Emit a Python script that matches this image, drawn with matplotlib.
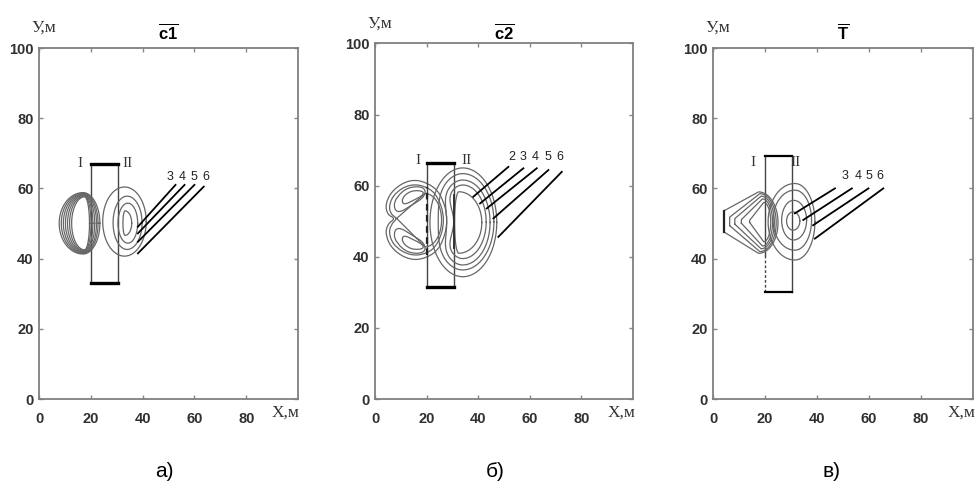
import numpy as np
import matplotlib
matplotlib.use('Agg')
import matplotlib.pyplot as plt
from matplotlib.path import Path
from matplotlib.patches import PathPatch

plt.rcParams['font.family'] = ['Liberation Sans', 'DejaVu Sans']
plt.rcParams['mathtext.fontset'] = 'custom'
plt.rcParams['mathtext.bf'] = 'Liberation Sans:bold'
plt.rcParams['mathtext.rm'] = 'Liberation Sans'

# ---- common ----
x_ticks = [0, 20, 40, 60, 80]
y_ticks = [0, 20, 40, 60, 80, 100]
titles = [r'$\overline{\mathbf{c1}}$', r'$\overline{\mathbf{c2}}$', r'$\overline{\mathbf{T}}$']
sub_labels = ['а)', 'б)', 'в)']

# source rectangle (zones I / II)
rect_x0 = [20, 20, 20]
rect_x1 = [30.5, 30.8, 30.5]
rect_y0 = [33.0, 31.6, 30.4]
rect_y1 = [67.0, 66.4, 69.2]
zone1_x = [15.8, 16.8, 15.4]
zone1_y = [67.0, 67.2, 67.5]
zone2_x = [34.0, 35.5, 31.8]
zone2_y = [67.0, 67.2, 67.5]

# ---- panel a: c1 ----
a1_left = [7.8, 8.6, 9.4, 10.2, 11.0, 11.8, 12.6]
a1_mid = [17.0, 17.1, 17.2, 17.3, 17.4, 17.5, 17.6]
a1_right = [23.5, 22.8, 22.2, 21.5, 20.8, 20.1, 19.5]
a1_bot = [41.3, 41.5, 41.7, 41.9, 42.1, 42.3, 42.5]
a1_top = [58.8, 58.6, 58.4, 58.2, 58.0, 57.8, 57.6]

a2_left = [24.6, 28.6, 30.5, 32.4]
a2_mid = [33.0, 34.0, 34.3, 33.2]
a2_right = [41.4, 39.8, 38.1, 35.8]
a2_bot = [40.7, 42.6, 44.4, 46.6]
a2_top = [60.4, 57.8, 55.8, 53.6]

a_lead_lab = ['3', '4', '5', '6']
a_lead_x0 = [52.7, 56.2, 60.0, 63.6]
a_lead_y0 = [61.0, 61.0, 61.0, 60.5]
a_lead_x1 = [38.2, 38.2, 38.2, 38.2]
a_lead_y1 = [49.1, 47.2, 44.8, 41.5]
a_lab_x = [50.6, 55.3, 59.7, 64.5]
a_lab_y = 63.3

# ---- panel b: c2 ----
# outer hearts of zone I
b1_heart_x = [
    [20.0, 13.6, 7.0, 4.0, 4.8, 8.0, 4.8, 4.0, 7.0, 13.6, 20.0, 25.5, 28.6, 25.5],
    [20.0, 13.8, 8.0, 5.4, 6.0, 8.8, 6.0, 5.4, 8.0, 13.8, 20.0, 24.5, 27.2, 24.5],
]
b1_heart_y = [
    [61.0, 61.8, 59.0, 55.0, 51.8, 50.8, 49.2, 46.0, 41.8, 39.0, 39.6, 42.5, 50.3, 58.0],
    [59.8, 60.5, 58.2, 54.8, 52.0, 50.8, 49.0, 46.0, 42.6, 40.3, 40.8, 43.5, 50.3, 57.0],
]
# loops inside the two lobes
b1_loop_x = [
    [19.4, 12.9, 8.4, 7.1, 9.0, 14.2, 19.4],
    [18.7, 13.6, 10.3, 11.0, 14.9, 18.7],
    [19.4, 12.9, 8.4, 7.1, 9.0, 14.2, 19.4],
    [18.7, 13.6, 10.3, 11.0, 14.9, 18.7],
]
b1_loop_y = [
    [59.7, 59.7, 56.9, 54.1, 52.2, 54.5, 56.9],
    [58.6, 58.6, 56.4, 54.5, 55.9, 57.3],
    [41.0, 41.0, 43.8, 46.6, 48.5, 46.2, 43.8],
    [42.1, 42.1, 44.3, 46.2, 44.8, 43.4],
]
# inner triangle of zone I
b1_tri = dict(xa=8.4, ha=0.0, xt=19.4, yt=57.8, yb=42.8, xr=25.8, yc=50.8)

b2_left = [21.3, 23.0, 24.8, 26.5, 30.8]
b2_mid = [34.0, 34.0, 34.0, 34.0, 32.5]
b2_right = [47.2, 46.1, 44.6, 43.1, 41.4]
b2_bot = [34.4, 36.3, 37.7, 39.5, 41.0]
b2_top = [65.0, 63.4, 61.6, 60.2, 58.3]
b2_dent = [0.0, 1.5, 3.0, 4.0, 0.0]

b_lead_lab = ['2', '3', '4', '5', '6']
b_lead_x0 = [51.7, 57.5, 62.7, 67.2, 72.4]
b_lead_y0 = [65.3, 64.9, 64.9, 64.4, 63.9]
b_lead_x1 = [38.1, 40.7, 43.3, 45.9, 47.8]
b_lead_y1 = [56.9, 55.0, 53.6, 50.8, 45.6]
b_lab_x = [53.0, 57.4, 62.2, 67.2, 71.7]
b_lab_y = 68.2

# ---- panel c: T ----
t1_apex = [4.2, 6.4, 8.4, 10.9, 14.1]
t1_flat = [3.0, 1.2, 0.8, 0.5, 0.3]
t1_topx = [17.5, 18.0, 18.5, 19.0, 19.5]
t1_top = [59.0, 58.5, 57.8, 57.0, 56.0]
t1_bot = [41.5, 42.0, 42.8, 43.6, 44.8]
t1_right = [25.0, 24.3, 23.6, 22.9, 22.2]
t1_yc = 50.6

t2_left = [21.2, 23.1, 26.4, 28.3]
t2_mid = [31.5, 31.5, 31.0, 30.8]
t2_right = [39.2, 37.9, 36.0, 33.4]
t2_bot = [39.6, 42.4, 45.3, 48.1]
t2_top = [61.4, 59.5, 56.6, 53.3]

c_lead_lab = ['3', '4', '5', '6']
c_lead_x0 = [46.9, 53.4, 59.8, 65.5]
c_lead_y0 = [60.0, 60.0, 60.0, 60.0]
c_lead_x1 = [31.5, 34.7, 38.5, 39.2]
c_lead_y1 = [52.9, 51.0, 49.5, 45.7]
c_lab_x = [50.6, 56.0, 60.0, 64.1]
c_lab_y = 63.6

CONT = dict(color='#666666', lw=0.9)
W, H = 977, 490
PANELS = [(39, 298, 48, 399), (375, 633, 43.5, 399), (713, 973, 48, 399)]


def egg(ax, xl, xm, xr, yb, yt, dent=0.0):
    t = np.linspace(0, 2 * np.pi, 240)
    c, s = np.cos(t), np.sin(t)
    x = np.where(c >= 0, xm + (xr - xm) * c, xm + (xm - xl) * c)
    x = x + dent * np.clip(-c, 0, 1) ** 6
    y = (yb + yt) / 2 + (yt - yb) / 2 * s
    ax.plot(x, y, **CONT)


def wedge(ax, xa, ha, xt, yt, yb, xr, yc):
    t = np.linspace(-np.pi / 2, np.pi / 2, 120)
    ax_ = xt + (xr - xt) * np.cos(t)
    ay_ = (yt + yb) / 2 + (yt - yb) / 2 * np.sin(t)
    x = np.concatenate([[xa], ax_, [xa, xa]])
    y = np.concatenate([[yc - ha], ay_, [yc + ha, yc - ha]])
    ax.plot(x, y, **CONT)


def smooth_closed(ax, xs, ys):
    pts = np.column_stack([xs, ys])
    mids = (pts + np.roll(pts, -1, axis=0)) / 2
    verts = [mids[-1]]
    codes = [Path.MOVETO]
    for p, m in zip(pts, mids):
        verts += [p, m]
        codes += [Path.CURVE3, Path.CURVE3]
    ax.add_patch(PathPatch(Path(verts, codes), fill=False, ec=CONT['color'], lw=CONT['lw']))


def leaders(ax, labs, x0, y0, x1, y1, lx, ly):
    for lab, a, b, c, d, tx in zip(labs, x0, y0, x1, y1, lx):
        ax.plot([a, c], [b, d], color='black', lw=1.3)
        ax.text(tx, ly, lab, ha='center', va='center', fontsize=9, color='#222222')


fig = plt.figure(figsize=(W / 100, H / 100), dpi=100)
axes = []
for i, (l, r, t, b) in enumerate(PANELS):
    ax = fig.add_axes([l / W, 1 - b / H, (r - l) / W, (b - t) / H])
    ax.set_xlim(0, 100)
    ax.set_ylim(0, 100)
    ax.set_xticks(x_ticks)
    ax.set_yticks(y_ticks)
    ax.tick_params(direction='in', length=3, width=1, color='#888888',
                   top=True, right=True, labelsize=10.5, labelcolor='#303030')
    ax.tick_params(axis='x', pad=9)
    ax.tick_params(axis='y', pad=4)
    for lbl in ax.get_xticklabels() + ax.get_yticklabels():
        lbl.set_fontweight('bold')
        lbl.set_family(['Liberation Sans Narrow', 'Liberation Sans'])
    for sp in ax.spines.values():
        sp.set_color('#808080')
        sp.set_linewidth(1.3)

    # rectangle of the source area
    x0, x1, y0, y1 = rect_x0[i], rect_x1[i], rect_y0[i], rect_y1[i]
    if i < 2:
        ax.plot([x0, x0], [y0, y1], color='#444444', lw=1.0)
    else:
        ax.plot([x0, x0], [41, y1], color='#444444', lw=1.0)
        ax.plot([x0, x0], [y0, 41], color='#444444', lw=1.0, ls=(0, (2, 1.5)))
    ax.plot([x1, x1], [y0, y1], color='#444444', lw=1.0)
    ax.plot([x0, x1], [y1, y1], color='black', lw=2.4 if i < 2 else 1.6)
    ax.plot([x0, x1], [y0, y0], color='black', lw=2.4 if i < 2 else 1.6)
    ax.text(zone1_x[i], zone1_y[i], 'I', family='Liberation Serif', fontsize=11,
            ha='center', va='center', color='#333333')
    ax.text(zone2_x[i], zone2_y[i], 'II', family='Liberation Serif', fontsize=11,
            ha='center', va='center', color='#333333')

    cx = (l + r) / 2
    fig.text(cx / W, 1 - 32 / H, titles[i], ha='center', va='center', fontsize=12)
    fig.text((l + 5) / W, 1 - (t - 20) / H, 'У,м', family='Liberation Serif',
             fontsize=12.5, ha='center', va='center', color='#333333')
    fig.text((r + 2) / W, 1 - 413 / H, 'Х,м', family='Liberation Serif',
             fontsize=12.5, ha='right', va='center', color='#333333')
    axes.append(ax)

fig.text(164 / W, 1 - 471 / H, sub_labels[0], ha='center', va='center', fontsize=15)
fig.text(495 / W, 1 - 471 / H, sub_labels[1], ha='center', va='center', fontsize=15)
fig.text(832 / W, 1 - 471 / H, sub_labels[2], ha='center', va='center', fontsize=15)

# panel a
ax = axes[0]
for p in zip(a1_left, a1_mid, a1_right, a1_bot, a1_top):
    egg(ax, *p)
for p in zip(a2_left, a2_mid, a2_right, a2_bot, a2_top):
    egg(ax, *p)
leaders(ax, a_lead_lab, a_lead_x0, a_lead_y0, a_lead_x1, a_lead_y1, a_lab_x, a_lab_y)

# panel b
ax = axes[1]
for xs, ys in zip(b1_heart_x, b1_heart_y):
    smooth_closed(ax, xs, ys)
for xs, ys in zip(b1_loop_x, b1_loop_y):
    smooth_closed(ax, xs, ys)
wedge(ax, **b1_tri)
ax.plot([20, 20], [40.5, 59.5], color='#222222', lw=1.6, ls=(0, (3, 2)))
for p in zip(b2_left, b2_mid, b2_right, b2_bot, b2_top, b2_dent):
    egg(ax, *p)
ax.plot([30.8, 30.8], [42.5, 57.5], color='#333333', lw=1.4)
leaders(ax, b_lead_lab, b_lead_x0, b_lead_y0, b_lead_x1, b_lead_y1, b_lab_x, b_lab_y)

# panel c
ax = axes[2]
for xa, ha, xt, yt, yb, xr in zip(t1_apex, t1_flat, t1_topx, t1_top, t1_bot, t1_right):
    wedge(ax, xa, ha, xt, yt, yb, xr, t1_yc)
ax.plot([t1_apex[0], t1_apex[0]], [t1_yc - t1_flat[0], t1_yc + t1_flat[0]], color='#222222', lw=1.6)
for p in zip(t2_left, t2_mid, t2_right, t2_bot, t2_top):
    egg(ax, *p)
leaders(ax, c_lead_lab, c_lead_x0, c_lead_y0, c_lead_x1, c_lead_y1, c_lab_x, c_lab_y)

fig.savefig('out.png', dpi=100)
